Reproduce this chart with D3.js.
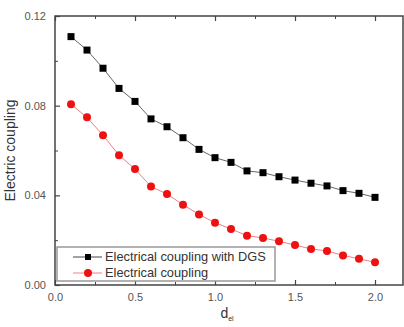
<!DOCTYPE html>
<html>
<head>
<meta charset="utf-8">
<script src="https://cdn.jsdelivr.net/npm/d3@7"></script>
<style>
  body { margin: 0; background: #fff; }
  text { font-family: "Liberation Sans", Arial, sans-serif; fill: #333; }
</style>
</head>
<body>
<div id="graph"></div>
<script>
// distances d_el
const dValues = [0.1, 0.2, 0.3, 0.4, 0.5, 0.6, 0.7, 0.8, 0.9, 1.0,
                 1.1, 1.2, 1.3, 1.4, 1.5, 1.6, 1.7, 1.8, 1.9, 2.0];
// electrical coupling with DGS (black squares)
const withDGS = [0.1108, 0.1048, 0.0967, 0.0877, 0.0819, 0.0741, 0.0706, 0.0657, 0.0605, 0.0568,
                 0.0547, 0.0509, 0.0501, 0.0483, 0.0468, 0.0454, 0.0442, 0.0421, 0.0409, 0.0391];
// electrical coupling (red circles)
const plain = [0.0806, 0.0748, 0.0668, 0.0579, 0.0517, 0.0439, 0.0406, 0.0358, 0.0315, 0.0278,
               0.0250, 0.0220, 0.0210, 0.0195, 0.0178, 0.0161, 0.0152, 0.0132, 0.0117, 0.0101];
const xTicks = [0, 0.5, 1.0, 1.5, 2.0];
const xMinor = [0.25, 0.75, 1.25, 1.75];
const yTicks = [0, 0.04, 0.08, 0.12];
const yMinor = [0.02, 0.06, 0.10];
const seriesNames = ["Electrical coupling with DGS", "Electrical coupling"];

const width = 404, height = 327;
const plot = { left: 55, right: 403, top: 16, bottom: 285 };

const svg = d3.select("#graph")
  .append("svg")
  .attr("width", width)
  .attr("height", height);

const x = d3.scaleLinear().domain([0, 2.175]).range([plot.left, plot.right]);
const y = d3.scaleLinear().domain([0, 0.12]).range([plot.bottom, plot.top]);

const axisColor = "#444";

// frame
svg.append("rect")
  .attr("x", plot.left).attr("y", plot.top)
  .attr("width", plot.right - plot.left).attr("height", plot.bottom - plot.top)
  .attr("fill", "none")
  .attr("stroke", axisColor)
  .attr("stroke-width", 1.5);

// bottom axis, ticks pointing inward
const bx = svg.append("g").attr("transform", `translate(0,${plot.bottom})`)
  .call(d3.axisBottom(x).tickValues(xTicks).tickSize(-5).tickPadding(8)
    .tickFormat(d3.format(".1f")).tickSizeOuter(0));
bx.select(".domain").remove();
bx.selectAll("line").attr("stroke", axisColor).attr("stroke-width", 1.2);
bx.selectAll("text").style("font-size", "11px").style("fill", "#555")
  .style("font-family", "'Liberation Sans', Arial, sans-serif");
svg.append("g").attr("transform", `translate(0,${plot.bottom})`)
  .call(d3.axisBottom(x).tickValues(xMinor).tickSize(-3).tickFormat(""))
  .call(g => g.select(".domain").remove())
  .selectAll("line").attr("stroke", axisColor);

// top mirrored ticks
svg.append("g").attr("transform", `translate(0,${plot.top})`)
  .call(d3.axisTop(x).tickValues(xTicks).tickSize(-5).tickFormat(""))
  .call(g => g.select(".domain").remove())
  .selectAll("line").attr("stroke", axisColor).attr("stroke-width", 1.2);
svg.append("g").attr("transform", `translate(0,${plot.top})`)
  .call(d3.axisTop(x).tickValues(xMinor).tickSize(-3).tickFormat(""))
  .call(g => g.select(".domain").remove())
  .selectAll("line").attr("stroke", axisColor);

// left axis
const ly = svg.append("g").attr("transform", `translate(${plot.left},0)`)
  .call(d3.axisLeft(y).tickValues(yTicks).tickSize(-5).tickPadding(9)
    .tickFormat(d3.format(".2f")).tickSizeOuter(0));
ly.select(".domain").remove();
ly.selectAll("line").attr("stroke", axisColor).attr("stroke-width", 1.2);
ly.selectAll("text").style("font-size", "11px").style("fill", "#555")
  .style("font-family", "'Liberation Sans', Arial, sans-serif");
svg.append("g").attr("transform", `translate(${plot.left},0)`)
  .call(d3.axisLeft(y).tickValues(yMinor).tickSize(-3).tickFormat(""))
  .call(g => g.select(".domain").remove())
  .selectAll("line").attr("stroke", axisColor);

// series
const lineGen = d3.line().x((d, i) => x(dValues[i])).y(d => y(d));

svg.append("path").datum(plain)
  .attr("d", lineGen).attr("fill", "none")
  .attr("stroke", "#f08080").attr("stroke-width", 1);
svg.append("g").selectAll("circle").data(plain).join("circle")
  .attr("cx", (d, i) => x(dValues[i])).attr("cy", d => y(d))
  .attr("r", 4).attr("fill", "#ee1111");

svg.append("path").datum(withDGS)
  .attr("d", lineGen).attr("fill", "none")
  .attr("stroke", "#666").attr("stroke-width", 1);
svg.append("g").selectAll("rect").data(withDGS).join("rect")
  .attr("x", (d, i) => x(dValues[i]) - 3.5).attr("y", d => y(d) - 3.5)
  .attr("width", 7).attr("height", 7).attr("fill", "#000");

// legend
const legend = svg.append("g").attr("transform", "translate(57,247)");
legend.append("rect")
  .attr("width", 218).attr("height", 34)
  .attr("fill", "#fff").attr("stroke", "#999").attr("stroke-width", 1.5);

const rows = legend.selectAll(".legend-key").data(seriesNames).join("g")
  .attr("class", "legend-key")
  .attr("transform", (d, i) => `translate(0,${10 + i * 16})`);
rows.append("line")
  .attr("x1", 16).attr("x2", 45)
  .attr("stroke", (d, i) => i === 0 ? "#444" : "#f08080");
rows.filter((d, i) => i === 0).append("rect")
  .attr("x", 28).attr("y", -3).attr("width", 6).attr("height", 6).attr("fill", "#000");
rows.filter((d, i) => i === 1).append("circle")
  .attr("cx", 31).attr("r", 4).attr("fill", "#ee1111");
rows.append("text")
  .attr("x", 48).attr("y", 0).attr("dy", "0.35em")
  .style("font-size", "12.8px")
  .text(d => d);

// axis titles
svg.append("text")
  .attr("transform", `translate(15,${(plot.top + plot.bottom) / 2}) rotate(-90)`)
  .style("text-anchor", "middle")
  .style("font-size", "14px")
  .text("Electric coupling");

const xTitle = svg.append("text")
  .attr("x", x(1.075)).attr("y", 318)
  .style("text-anchor", "middle")
  .style("font-size", "14px");
xTitle.append("tspan").text("d");
xTitle.append("tspan").attr("dy", 3).style("font-size", "7px").text("el");
</script>
</body>
</html>
